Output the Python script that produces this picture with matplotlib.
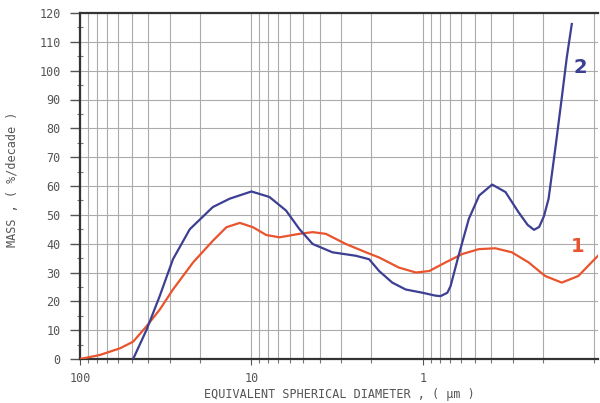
import matplotlib
matplotlib.use("Agg")
import matplotlib.pyplot as plt
from matplotlib.ticker import LogLocator, NullFormatter, FixedLocator, FixedFormatter, MultipleLocator

# ---- data (diameter in um, mass %/decade) ----
blue_x = [49, 41, 34.3, 28.7, 22.9, 16.8, 13.4, 10.0, 7.86, 6.29, 5.26, 4.40, 3.37, 2.46, 2.06,
          1.80, 1.51, 1.26, 1.01, 0.85, 0.79, 0.72, 0.69, 0.62, 0.54, 0.47, 0.395, 0.33, 0.277,
          0.245, 0.225, 0.210, 0.197, 0.185, 0.169, 0.155, 0.145, 0.1355]
blue_y = [0, 10, 21.8, 34.6, 45, 52.7, 55.6, 58.1, 56.2, 51.5, 45.1, 39.9, 37, 35.8, 34.6,
          30.5, 26.5, 24.1, 23, 22.0, 21.8, 23.0, 25.3, 35.8, 48.6, 56.7, 60.5, 57.9, 50.9,
          46.5, 44.8, 45.8, 49.5, 55.6, 73.1, 90.6, 104.5, 116.2]

red_x = [100, 76.5, 58.5, 49, 41, 34.3, 28.7, 21.9, 16.8, 14.0, 11.7, 9.8, 8.2, 6.87, 5.26,
         4.40, 3.68, 2.82, 2.15, 1.80, 1.38, 1.10, 0.92, 0.738, 0.59, 0.472, 0.378, 0.303,
         0.242, 0.194, 0.155, 0.124, 0.104, 0.0953]
red_y = [0, 1.4, 3.7, 6, 11.3, 17.1, 24.1, 33.5, 41, 45.7, 47.2, 45.7, 43, 42.2, 43.4,
         44, 43.4, 39.9, 37, 35.2, 31.7, 30, 30.5, 33.5, 36.4, 38.1, 38.4, 37,
         33.5, 28.8, 26.5, 28.8, 33.5, 35.8]

x_ticks = [100, 10, 1]
x_tick_labels = ["100", "10", "1"]
y_ticks = list(range(0, 121, 10))
y_tick_labels = [str(v) for v in y_ticks]

xlabel = "EQUIVALENT SPHERICAL DIAMETER , ( \u00b5m )"
ylabel = "MASS , ( %/decade )"

BLUE = "#3c3f92"
RED = "#e9532d"
TXT = "#555555"
FONT = "DejaVu Sans Mono"

fig = plt.figure(figsize=(6.0, 4.03), dpi=100)
ax = fig.add_axes([80/600, 1-359/403, 518/600, (359-13)/403])

ax.set_xscale("log")
ax.set_xlim(100, 0.0953)
ax.set_ylim(0, 120)

# grid
ax.xaxis.set_major_locator(FixedLocator(x_ticks))
ax.xaxis.set_major_formatter(FixedFormatter(x_tick_labels))
ax.xaxis.set_minor_locator(LogLocator(base=10, subs=range(1, 10), numticks=20))
ax.xaxis.set_minor_formatter(NullFormatter())
ax.yaxis.set_major_locator(FixedLocator(y_ticks))
ax.yaxis.set_major_formatter(FixedFormatter(y_tick_labels))
ax.yaxis.set_minor_locator(MultipleLocator(5))

ax.grid(which="both", axis="x", color="#ababab", linewidth=0.8)
ax.grid(which="major", axis="y", color="#ababab", linewidth=0.8)
ax.set_axisbelow(True)

ax.plot(red_x, red_y, color=RED, linewidth=1.6, zorder=3)
ax.plot(blue_x, blue_y, color=BLUE, linewidth=1.6, zorder=4)

ax.text(0.121, 101, "2", color=BLUE, fontsize=14, fontweight="bold", ha="center", va="center")
ax.text(0.125, 39.0, "1", color=RED, fontsize=14, fontweight="bold", ha="center", va="center")

for side in ["top", "left", "bottom"]:
    ax.spines[side].set_color("#333333")
    ax.spines[side].set_linewidth(1.6)
ax.spines["right"].set_visible(False)

ax.tick_params(axis="x", which="major", direction="out", length=4, width=0.8, color="#555555",
               pad=5, labelsize=8.5, labelcolor=TXT)
ax.tick_params(axis="x", which="minor", direction="out", length=3, width=0.8, color="#777777")
ax.tick_params(axis="y", which="major", direction="out", length=7, width=1.0, color="#555555",
               pad=7, labelsize=8.5, labelcolor=TXT)
ax.tick_params(axis="y", which="minor", direction="inout", length=4, width=0.8, color="#777777")
for lbl in ax.get_xticklabels() + ax.get_yticklabels():
    lbl.set_fontfamily(FONT)

ax.set_xlabel(xlabel, fontsize=8.5, color=TXT, family=FONT)
ax.xaxis.set_label_coords(0.5, -0.085)
ax.set_ylabel(ylabel, fontsize=8.5, color=TXT, family=FONT)
ax.yaxis.set_label_coords(-0.118, 0.52)

fig.savefig("out.png", dpi=100)
